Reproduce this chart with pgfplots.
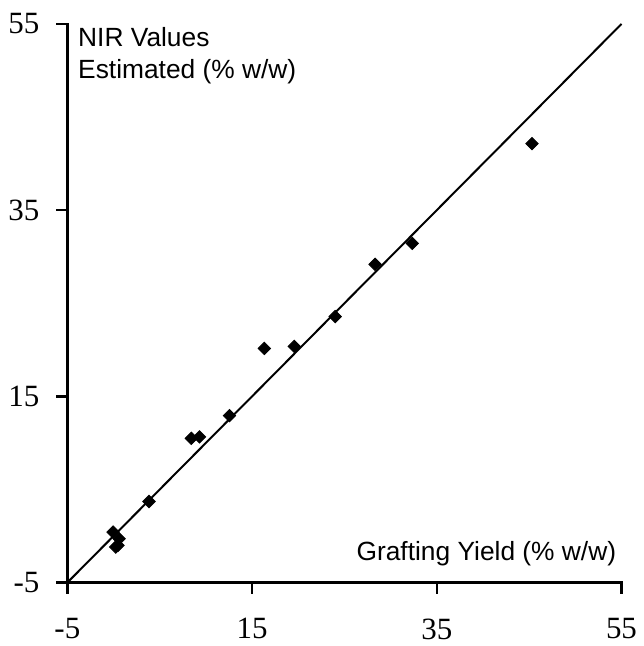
\documentclass[border=0pt]{standalone}
\usepackage{pgfplots}
\pgfplotsset{compat=1.18}
\usepackage{fontspec}
\setmainfont{Liberation Serif}
\newfontfamily\arial{Liberation Sans}
\begin{document}
\begin{tikzpicture}
\path (-33.75pt,-31pt) rectangle (286.25pt,292pt);
\begin{axis}[
  at={(0,0)}, anchor=south west,
  scale only axis, width=277.75pt, height=280pt,
  xmin=-5, xmax=55, ymin=-5, ymax=55,
  axis line style={draw=none},
  xtick={-5,15,35,55}, ytick={-5,15,35,55},
  xtick pos=left, ytick pos=left,
  tick align=outside,
  major tick length=5.5pt,
  major tick style={draw=black, line width=1.2pt},
  ticklabel style={font=\fontsize{15.5}{17}\selectfont},
  xticklabel style={yshift=-9pt},
  yticklabel style={xshift=-5pt},
  /pgf/number format/assume math mode=true,
  clip=false,
]
\draw[line width=1.2pt, line cap=rect] (rel axis cs:0,1) -- (rel axis cs:0,0) -- (rel axis cs:1,0);
\addplot[black, line width=1pt, no marks] coordinates {(-5,-5) (55,55)};
\addplot[only marks, mark=square*, mark size=2.2pt, black,
  mark options={rotate=45}] coordinates {
(3.84,3.71) (-0.05,0.43) (0.6,-0.29) (0.49,-1.0) (0.24,-1.18)
(8.42,10.5) (9.31,10.64) (12.55,12.93) (16.33,20.15) (19.57,20.36)
(24.0,23.57) (28.32,29.18) (32.35,31.43) (45.31,42.14)
};
\node[anchor=north west, align=left, inner sep=0pt, font=\arial\fontsize{13.2}{16}\selectfont]
  at ([xshift=5.25pt,yshift=-1.5pt]rel axis cs:0,1) {NIR Values\\Estimated (\% w/w)};
\node[anchor=base east, inner sep=0pt, font=\arial\fontsize{13.2}{16}\selectfont]
  at ([xshift=-2.5pt,yshift=11pt]rel axis cs:1,0) {Grafting Yield (\% w/w)};
\end{axis}
\draw[line width=1.2pt]
  (0pt,0pt) -- (0pt,-5.5pt)
  (92.583pt,0pt) -- (92.583pt,-5.5pt)
  (185.167pt,0pt) -- (185.167pt,-5.5pt)
  (277.75pt,0pt) -- (277.75pt,-5.5pt)
  (0pt,0pt) -- (-5.5pt,0pt)
  (0pt,93.333pt) -- (-5.5pt,93.333pt)
  (0pt,186.667pt) -- (-5.5pt,186.667pt)
  (0pt,280pt) -- (-5.5pt,280pt);
\end{tikzpicture}
\end{document}
